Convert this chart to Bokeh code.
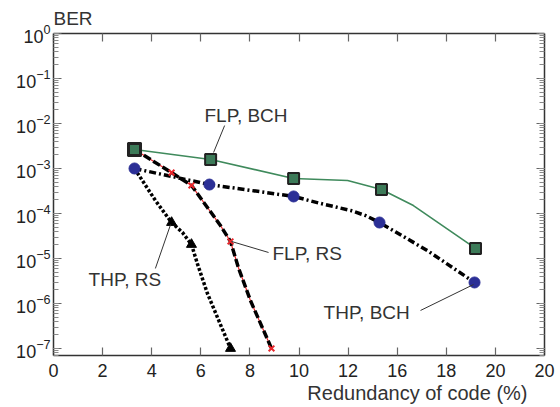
from bokeh.plotting import figure
from bokeh.models import (LogAxis, LinearAxis, FixedTicker, LogTicker, Label,
                          CustomJSTickFormatter, Range1d, Title)
from bokeh.embed import file_html
from bokeh.resources import INLINE

# ---------------- data ----------------
x_ticks = [0, 2, 4, 6, 8, 10, 12, 14, 16, 18, 20]
x_tick_labels = ["0", "2", "4", "6", "8", "10", "12", "16", "18", "20", "20"]

# FLP, BCH (green line, squares)
flp_bch_line_x = [3.30, 6.40, 9.78, 11.98, 13.36, 14.66, 17.19]
flp_bch_line_y = [2.64e-3, 1.58e-3, 6.0e-4, 5.4e-4, 3.4e-4, 1.5e-4, 1.67e-5]
flp_bch_pts_x = [3.30, 6.40, 9.78, 13.36, 17.19]
flp_bch_pts_y = [2.64e-3, 1.58e-3, 6.0e-4, 3.4e-4, 1.67e-5]

# THP, BCH (dash-dot, blue circles)
thp_bch_line_x = [3.30, 6.35, 9.78, 10.88, 12.10, 12.71, 13.28, 15.23, 17.15]
thp_bch_line_y = [1.0e-3, 4.4e-4, 2.39e-4, 1.67e-4, 1.17e-4, 9.0e-5, 6.3e-5, 1.5e-5, 2.93e-6]
thp_bch_pts_x = [3.30, 6.35, 9.78, 13.28, 17.15]
thp_bch_pts_y = [1.0e-3, 4.4e-4, 2.39e-4, 6.3e-5, 2.93e-6]

# FLP, RS (dashed, red crosses)
flp_rs_line_x = [3.30, 4.81, 5.62, 6.27, 6.80, 7.21, 7.53, 8.02, 8.88]
flp_rs_line_y = [2.64e-3, 8.1e-4, 4.2e-4, 1.36e-4, 5.4e-5, 2.39e-5, 6.3e-6, 1.17e-6, 1.0e-7]
flp_rs_pts_x = [3.30, 4.81, 5.62, 7.21, 8.88]
flp_rs_pts_y = [2.64e-3, 8.1e-4, 4.2e-4, 2.39e-5, 1.0e-7]

# THP, RS (dotted, black triangles)
thp_rs_line_x = [3.30, 4.15, 4.81, 5.25, 5.62, 5.86, 6.27, 7.21]
thp_rs_line_y = [1.0e-3, 1.95e-4, 6.3e-5, 3.8e-5, 2.05e-5, 7.7e-6, 1.67e-6, 1.0e-7]
thp_rs_pts_x = [4.81, 5.62, 7.21]
thp_rs_pts_y = [6.3e-5, 2.05e-5, 1.0e-7]

# annotations: text, text position, leader line (x0, y0, x1, y1)
ann_text = ["FLP, BCH", "FLP, RS", "THP, RS", "THP, BCH"]
ann_x = [6.15, 8.92, 1.43, 11.0]
ann_y = [1.5e-2, 1.29e-5, 3.4e-6, 6.3e-7]
lead_x0 = [6.97, 7.25, 4.15, 14.95]
lead_y0 = [9.0e-3, 2.39e-5, 6.0e-6, 7.0e-7]
lead_x1 = [6.52, 8.76, 4.77, 17.11]
lead_y1 = [2.27e-3, 1.36e-5, 5.7e-5, 2.64e-6]

y_title = "BER"
x_title = "Redundancy of code (%)"

FONT = "Liberation Sans"
TXT = "#333333"

p = figure(width=560, height=407, output_backend="svg", toolbar_location=None,
           y_axis_type="log", x_range=Range1d(0, 20),
           y_range=Range1d(10 ** -7.156, 1.0),
           min_border_left=53, min_border_right=16, min_border_top=33,
           min_border_bottom=52)
p.outline_line_color = None
p.xgrid.visible = False
p.ygrid.visible = False
p.background_fill_color = "white"

p.title = Title(text=y_title, align="left", text_font=FONT, text_font_size="19px",
                text_font_style="normal", text_color=TXT, standoff=10, offset=0)

def style_axis(ax):
    ax.axis_line_color = "#333333"
    ax.axis_line_width = 1.5
    ax.major_tick_in = 8
    ax.major_tick_out = 0
    ax.minor_tick_in = 5
    ax.minor_tick_out = 0
    ax.major_tick_line_color = "#666666"
    ax.minor_tick_line_color = "#888888"
    ax.major_tick_line_width = 1.2
    ax.minor_tick_line_width = 1
    ax.major_label_text_font = FONT
    ax.major_label_text_font_size = "18px"
    ax.major_label_text_color = "#222222"

xa = p.xaxis[0]
xa.ticker = FixedTicker(ticks=x_ticks, minor_ticks=[])
xa.formatter = CustomJSTickFormatter(
    args=dict(tv=x_ticks, lb=x_tick_labels),
    code="""
    for (let i = 0; i < tv.length; i++) {
        if (Math.abs(tv[i] - tick) < 1e-6) return lb[i];
    }
    return '';
    """)
style_axis(xa)
xa.major_label_standoff = 8

ya = p.yaxis[0]
ya.ticker = LogTicker(num_minor_ticks=10)
style_axis(ya)
ya.major_label_standoff = 3

top = LinearAxis(ticker=FixedTicker(ticks=x_ticks, minor_ticks=[]),
                 formatter=CustomJSTickFormatter(code="return ''"))
style_axis(top)
top.major_label_standoff = 0
top.major_label_text_font_size = "1px"
p.add_layout(top, "above")

right = LogAxis(ticker=LogTicker(num_minor_ticks=10),
                formatter=CustomJSTickFormatter(code="return ''"))
style_axis(right)
right.major_label_standoff = 0
right.major_label_text_font_size = "1px"
p.add_layout(right, "right")

p.add_layout(Title(text=x_title, align="right", text_font=FONT,
                   text_font_size="20px", text_font_style="normal",
                   text_color=TXT, standoff=0, offset=17), "below")

# lines
p.line(flp_bch_line_x, flp_bch_line_y, line_color="#3f8a5c", line_width=1.6)
p.line(flp_rs_line_x, flp_rs_line_y, line_color="#e8262b", line_width=1.2)
p.line(flp_rs_line_x, flp_rs_line_y, line_color="black", line_width=3.5,
       line_dash="8 3")
p.line(thp_rs_line_x, thp_rs_line_y, line_color="black", line_width=3.5,
       line_dash="3 2")
p.line(thp_bch_line_x, thp_bch_line_y, line_color="black", line_width=3.5,
       line_dash="7 3 2 3")

# markers
p.scatter(thp_rs_pts_x, thp_rs_pts_y, marker="triangle", size=10,
          fill_color="black", line_color="black")
p.scatter(flp_rs_pts_x, flp_rs_pts_y, marker="x", size=8,
          line_color="#e8262b", line_width=2)
p.scatter(thp_bch_pts_x, thp_bch_pts_y, marker="circle", size=11,
          fill_color="#2b2f96", line_color="#2b2f96")
p.scatter(flp_bch_pts_x[:1], flp_bch_pts_y[:1], marker="square", size=13,
          fill_color=None, line_color="#222222", line_width=2)
p.scatter(flp_bch_pts_x, flp_bch_pts_y, marker="square", size=11,
          fill_color="#3c7a58", line_color="#222222", line_width=2)

# leader lines
p.segment(lead_x0, lead_y0, lead_x1, lead_y1, line_color="#333333", line_width=1)

for t, x, y in zip(ann_text, ann_x, ann_y):
    p.add_layout(Label(x=x, y=y, text=t, text_font=FONT, text_font_size="19px",
                       text_color=TXT, text_align="left", text_baseline="middle"))

open("out.html", "w").write(file_html(p, INLINE))
